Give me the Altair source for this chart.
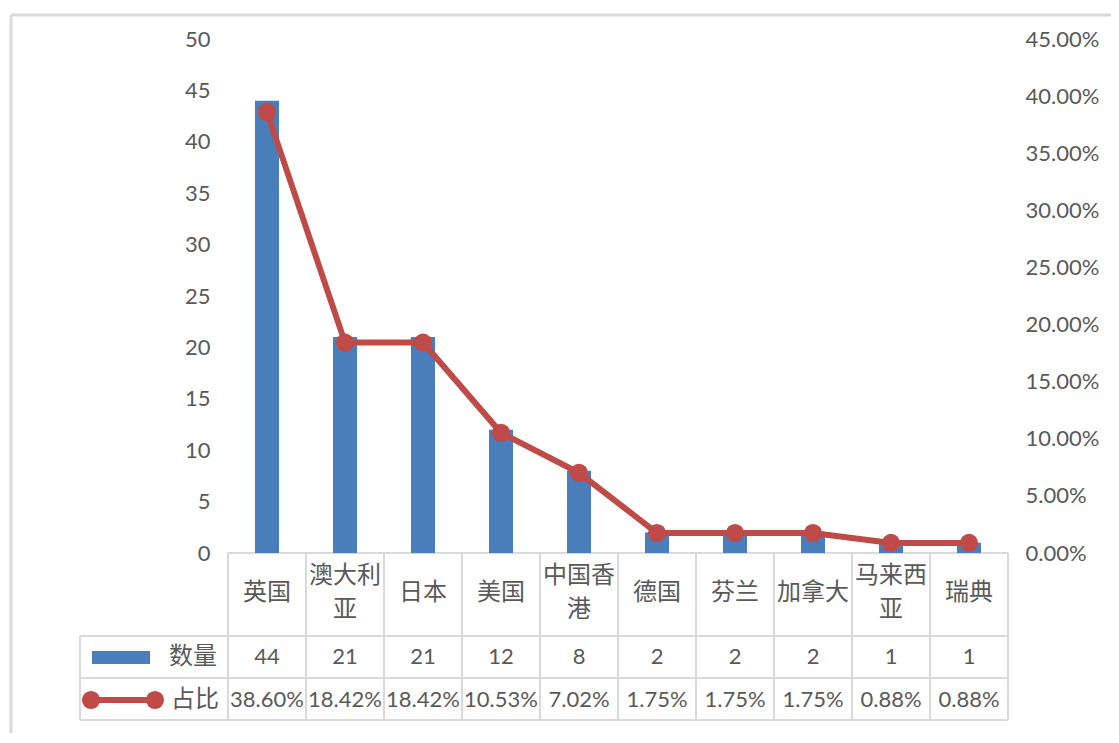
import altair as alt
import pandas as pd

categories = ["英国", "澳大利亚", "日本", "美国", "中国香港", "德国", "芬兰", "加拿大", "马来西亚", "瑞典"]
label_line1 = ["英国", "澳大利", "日本", "美国", "中国香", "德国", "芬兰", "加拿大", "马来西", "瑞典"]
label_line2 = ["", "亚", "", "", "港", "", "", "", "亚", ""]
counts = [44, 21, 21, 12, 8, 2, 2, 2, 1, 1]
ratios = [0.3860, 0.1842, 0.1842, 0.1053, 0.0702, 0.0175, 0.0175, 0.0175, 0.0088, 0.0088]
ratio_labels = ["38.60%", "18.42%", "18.42%", "10.53%", "7.02%", "1.75%", "1.75%", "1.75%", "0.88%", "0.88%"]
series_names = ["数量", "占比"]

df = pd.DataFrame({
    "cat": categories,
    "l1": label_line1,
    "l2": label_line2,
    "count": counts,
    "ratio": ratios,
    "ratio_label": ratio_labels,
    "count_label": [str(c) for c in counts],
})
one = pd.DataFrame({"d": [0]})

BLUE = "#4a7ebb"
RED = "#be4b48"
TXT = "#595959"
GRID = "#d9d9d9"
NUMFONT = "Lato"
CJK = "Noto Sans CJK SC"

W, H = 780, 514

xenc = alt.X("cat:N", sort=categories, axis=None,
             scale=alt.Scale(paddingInner=0, paddingOuter=0))

bars = alt.Chart(df).mark_bar(size=24, color=BLUE).encode(
    x=xenc,
    y=alt.Y("count:Q", scale=alt.Scale(domain=[0, 50]),
            axis=alt.Axis(title=None, values=list(range(0, 55, 5)), orient="left",
                          domain=False, ticks=False, grid=False, labelPadding=18,
                          labelFontSize=22, labelFont=NUMFONT, labelColor=TXT)),
)

ratio_y = alt.Y("ratio:Q", scale=alt.Scale(domain=[0, 0.45]),
                axis=alt.Axis(title=None, values=[i * 0.05 for i in range(10)], orient="right",
                              format=".2%", domain=False, ticks=False, grid=False,
                              labelPadding=17, labelFontSize=22, labelFont=NUMFONT,
                              labelColor=TXT))
line = alt.Chart(df).mark_line(color=RED, strokeWidth=6).encode(x=xenc, y=ratio_y)
pts = alt.Chart(df).mark_point(filled=True, color=RED, size=330, opacity=1).encode(x=xenc, y=ratio_y)
ratio_layer = alt.layer(line, pts)

# table text: category names (one or two lines)
cat_single = alt.Chart(df).transform_filter("datum.l2 == ''").mark_text(
    font=CJK, fontSize=24, color=TXT, baseline="middle").encode(
    x=xenc, y=alt.value(554), text="l1:N")
cat_first = alt.Chart(df).transform_filter("datum.l2 != ''").mark_text(
    font=CJK, fontSize=24, color=TXT, baseline="middle").encode(
    x=xenc, y=alt.value(537), text="l1:N")
cat_second = alt.Chart(df).transform_filter("datum.l2 != ''").mark_text(
    font=CJK, fontSize=24, color=TXT, baseline="middle").encode(
    x=xenc, y=alt.value(571), text="l2:N")
cnt_text = alt.Chart(df).mark_text(font=NUMFONT, fontSize=22, color=TXT, baseline="middle").encode(
    x=xenc, y=alt.value(618), text="count_label:N")
pct_text = alt.Chart(df).mark_text(font=NUMFONT, fontSize=22, color=TXT, baseline="middle").encode(
    x=xenc, y=alt.value(661), text="ratio_label:N")

# table grid
vlines = alt.Chart(df).mark_rule(color=GRID, strokeWidth=2).encode(
    x=alt.X("cat:N", sort=categories, axis=None, bandPosition=0,
            scale=alt.Scale(paddingInner=0, paddingOuter=0)),
    y=alt.value(514), y2=alt.value(681))
vlast = alt.Chart(one).mark_rule(color=GRID, strokeWidth=2).encode(
    x=alt.value(W), y=alt.value(514), y2=alt.value(681))
vleft = alt.Chart(one).mark_rule(color=GRID, strokeWidth=2).encode(
    x=alt.value(-148), y=alt.value(597), y2=alt.value(681))
h0 = alt.Chart(one).mark_rule(color=GRID, strokeWidth=2).encode(
    x=alt.value(0), x2=alt.value(W), y=alt.value(514))
h1 = alt.Chart(one).mark_rule(color=GRID, strokeWidth=2).encode(
    x=alt.value(-148), x2=alt.value(W), y=alt.value(597))
h2 = alt.Chart(one).mark_rule(color=GRID, strokeWidth=2).encode(
    x=alt.value(-148), x2=alt.value(W), y=alt.value(639))
h3 = alt.Chart(one).mark_rule(color=GRID, strokeWidth=2).encode(
    x=alt.value(-148), x2=alt.value(W), y=alt.value(681))

# legend keys in table
leg_rect = alt.Chart(one).mark_rect(color=BLUE).encode(
    x=alt.value(-136), x2=alt.value(-78), y=alt.value(612), y2=alt.value(625))
leg_t1 = alt.Chart(pd.DataFrame({"s": [series_names[0]]})).mark_text(
    font=CJK, fontSize=24, color=TXT, baseline="middle").encode(
    x=alt.value(-35), y=alt.value(618), text="s:N")
leg_line = alt.Chart(one).mark_rule(color=RED, strokeWidth=6).encode(
    x=alt.value(-137), x2=alt.value(-73), y=alt.value(661))
leg_p1 = alt.Chart(one).mark_point(filled=True, color=RED, size=330, opacity=1).encode(
    x=alt.value(-137), y=alt.value(661))
leg_p2 = alt.Chart(one).mark_point(filled=True, color=RED, size=330, opacity=1).encode(
    x=alt.value(-73), y=alt.value(661))
leg_t2 = alt.Chart(pd.DataFrame({"s": [series_names[1]]})).mark_text(
    font=CJK, fontSize=24, color=TXT, baseline="middle").encode(
    x=alt.value(-33), y=alt.value(661), text="s:N")

# outer chart border
b_left = alt.Chart(one).mark_rule(color="#d9d9d9", strokeWidth=3).encode(
    x=alt.value(-217), y=alt.value(-24), y2=alt.value(720))
b_top = alt.Chart(one).mark_rule(color="#d9d9d9", strokeWidth=3).encode(
    x=alt.value(-217), x2=alt.value(900), y=alt.value(-24))

chart = alt.layer(
    b_left, b_top,
    vlines, vlast, vleft, h0, h1, h2, h3,
    bars, ratio_layer,
    cat_single, cat_first, cat_second, cnt_text, pct_text,
    leg_rect, leg_t1, leg_line, leg_p1, leg_p2, leg_t2,
).resolve_scale(y="independent").properties(
    width=W, height=H,
    background="white",
    autosize=alt.AutoSizeParams(type="none"),
    padding={"left": 220, "top": 31, "right": 103, "bottom": 180},
).configure_view(strokeWidth=0, strokeOpacity=0).configure_axis(
    domain=False, grid=False, ticks=False
)

chart.save("out.html", embed_options={"renderer": "svg", "actions": False})
